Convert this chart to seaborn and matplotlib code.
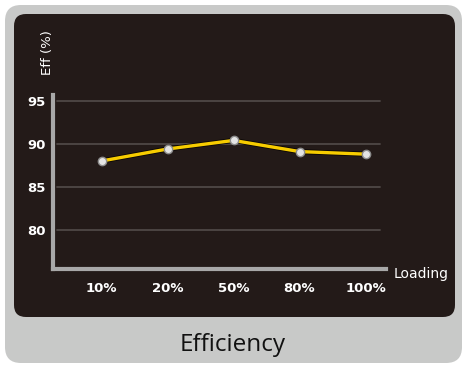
import matplotlib
matplotlib.use("Agg")
import matplotlib.pyplot as plt
import matplotlib.patheffects as pe
from matplotlib.patches import FancyBboxPatch
import seaborn as sns
import pandas as pd

loading = ["10%", "20%", "50%", "80%", "100%"]
efficiency = [88.0, 89.4, 90.4, 89.1, 88.8]
y_ticks = [80, 85, 90, 95]

sns.set_theme(style="white")
plt.rcParams["font.family"] = ["DejaVu Sans"]

W, H = 468, 368
fig = plt.figure(figsize=(W / 100, H / 100), dpi=100)
fig.patch.set_facecolor("white")

def px_box(x0, y0, x1, y1):
    return (x0 / W, 1 - y1 / H, (x1 - x0) / W, (y1 - y0) / H)

# background axes in pixel units for the frames
bg = fig.add_axes([0, 0, 1, 1], zorder=0)
bg.set_xlim(0, W)
bg.set_ylim(H, 0)
bg.axis("off")
bg.add_patch(FancyBboxPatch((5, 5), 457, 358,
                            boxstyle="round,pad=0,rounding_size=16",
                            facecolor="#c8c9c8", edgecolor="none"))
bg.add_patch(FancyBboxPatch((14, 14), 441, 303,
                            boxstyle="round,pad=0,rounding_size=12",
                            facecolor="#231a18", edgecolor="none"))

ax = fig.add_axes(px_box(53, 95, 386, 269), zorder=2)
ax.set_facecolor("none")

df = pd.DataFrame({"Loading": loading, "Eff": efficiency})
df["pos"] = range(len(loading))
sns.lineplot(data=df, x="pos", y="Eff", ax=ax, color="#f7cc00", linewidth=2.4,
             path_effects=[pe.Stroke(linewidth=3.6, foreground="#0a0605"), pe.Normal()],
             zorder=5)
sns.scatterplot(data=df, x="pos", y="Eff", ax=ax, s=36, color="#e4e4e4",
                edgecolor="#8c8c8c", linewidth=1.0, zorder=6, legend=False)

ax.set_xlim(-0.735, 4.31)
ax.set_ylim(75.4, 95.7)

for v in y_ticks:
    ax.axhline(v, xmin=0.012, xmax=0.982, color="#4f4846", linewidth=1.3, zorder=1)

ax.set_xticks(range(len(loading)))
ax.set_xticklabels(loading)
ax.set_yticks(y_ticks)
ax.tick_params(axis="both", length=0, colors="white", labelsize=9.5)
ax.tick_params(axis="x", pad=9)
ax.tick_params(axis="y", pad=5)
for lab in ax.get_xticklabels() + ax.get_yticklabels():
    lab.set_fontweight("bold")
    lab.set_color("white")

for s in ["top", "right"]:
    ax.spines[s].set_visible(False)
for s in ["left", "bottom"]:
    ax.spines[s].set_color("#a8a8a8")
    ax.spines[s].set_linewidth(3)
ax.set_xlabel("")
ax.set_ylabel("")

fig.text(394 / W, 1 - 274 / H, "Loading", color="white", fontsize=10,
         ha="left", va="center", zorder=3)
fig.text(47 / W, 1 - 53 / H, "Eff (%)", color="white", fontsize=9.5,
         rotation=90, ha="center", va="center", zorder=3)
fig.text(233 / W, 1 - 345 / H, "Efficiency", color="#111111", fontsize=17.5,
         ha="center", va="center", family=["Open Sans", "DejaVu Sans"], zorder=3)

fig.savefig("out.png", dpi=100, facecolor="white")
